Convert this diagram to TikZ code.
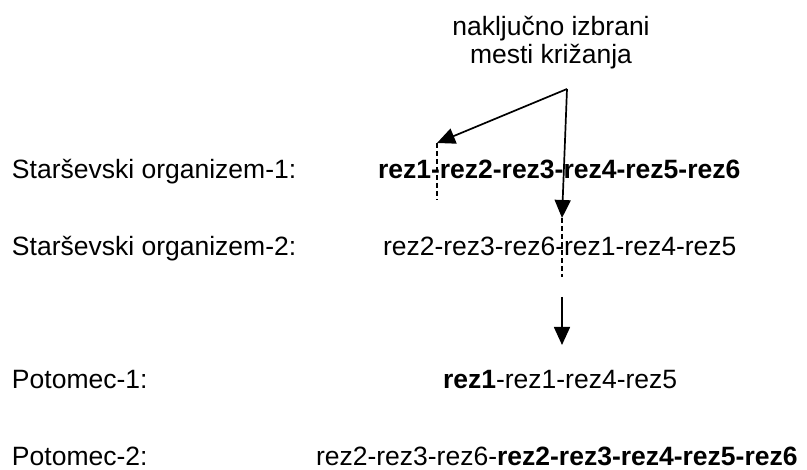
\documentclass[tikz,border=0pt]{standalone}
\usepackage{fontspec}
\setmainfont{Liberation Sans}
\usetikzlibrary{arrows.meta}
\begin{document}
\begin{tikzpicture}[x=1pt,y=1pt,
  txt/.style={inner sep=0pt,outer sep=0pt,anchor=base west,font=\fontsize{26.5}{28}\selectfont},
  ttl/.style={inner sep=0pt,outer sep=0pt,anchor=base,font=\fontsize{26.5}{28}\selectfont},
  pointer/.style={line width=1.7pt,-{Triangle[length=18pt,width=16pt]}},
  cutline/.style={line width=1.4pt,dash pattern=on 5pt off 3pt}]
\useasboundingbox (0,0) rectangle (807,470);

% caption above the chromosomes
\node[ttl] (title1) at (551,434) {naključno izbrani};
\node[ttl] (title2) at (551,406) {mesti križanja};

% row labels
\node[txt] (lab1) at (12,291) {Starševski organizem-1:};
\node[txt] (lab2) at (12,214) {Starševski organizem-2:};
\node[txt] (lab3) at (12,81)  {Potomec-1:};
\node[txt] (lab4) at (12,4)   {Potomec-2:};

% chromosomes
\node[txt] (par1) at (378,291) {\bfseries rez1-rez2-rez3-rez4-rez5-rez6};
\node[txt] (par2) at (383,214) {rez2-rez3-rez6-rez1-rez4-rez5};
\node[txt] (off1) at (443,81)  {\textbf{rez1}-rez1-rez4-rez5};
\node[txt] (off2) at (316,4)   {rez2-rez3-rez6-\textbf{rez2-rez3-rez4-rez5-rez6}};

% crossover points
\coordinate (apex) at (567,381);
\coordinate (cutA) at (437,327);
\coordinate (cutAend) at (437,270);
\coordinate (cutB) at (562,252);
\coordinate (cutBend) at (562,193);
\coordinate (down1) at (562,173);
\coordinate (down2) at (562,125);

\draw[cutline] (cutA) -- (cutAend);
\draw[cutline] (cutB) -- (cutBend);
\draw[pointer] (apex) -- (cutA);
\draw[pointer] (apex) -- (cutB);
\draw[pointer] (down1) -- (down2);
\end{tikzpicture}
\end{document}
